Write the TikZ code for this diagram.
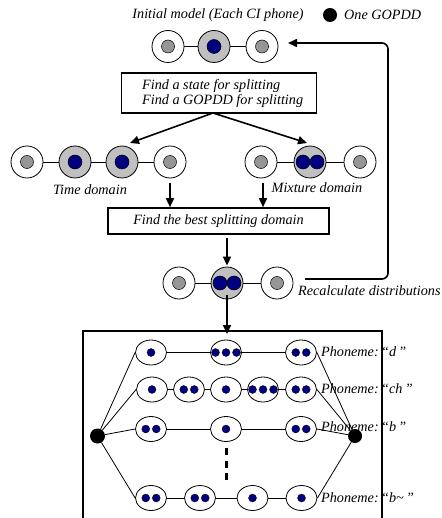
\documentclass[tikz,border=0pt]{standalone}
\usepackage{fontspec}
\setmainfont{Liberation Serif}
\usetikzlibrary{arrows.meta,shapes.geometric}
\definecolor{navy}{RGB}{0,0,128}
\definecolor{midgray}{RGB}{192,192,192}
\definecolor{dotgray}{RGB}{150,150,150}
\tikzset{
  lbl/.style={font=\fontsize{14.2}{15}\selectfont\itshape, inner sep=0pt},
  outerw/.style={circle, draw, line width=0.8pt, minimum size=32pt, inner sep=0pt, fill=white},
  outerg/.style={outerw, fill=midgray},
  gdot/.style={circle, draw, line width=0.5pt, fill=dotgray, minimum size=13pt, inner sep=0pt},
  bdot/.style={circle, draw, line width=0.5pt, fill=navy, minimum size=14pt, inner sep=0pt},
  ell/.style={ellipse, draw, line width=0.8pt, minimum width=31pt, minimum height=25pt, inner sep=0pt, fill=white},
  sdot/.style={circle, fill=navy, draw=black, line width=0.3pt, minimum size=8pt, inner sep=0pt},
  bigdot/.style={circle, fill=black, minimum size=15pt, inner sep=0pt},
  link/.style={line width=0.8pt},
  arr/.style={line width=1.6pt, -{Triangle[length=9pt,width=8pt]}},
  flowbox/.style={draw, line width=1.6pt, inner sep=0pt, fill=white},
}
\newcommand\stnode[5]{%
  \node[#4] (#1) at (#2,#3) {};
  \node[#5] (#1i) at (#2,#3) {};}
\newcommand\stnodetwo[3]{%
  \node[outerg] (#1) at (#2,#3) {};
  \node[bdot] (#1i) at (#2-7,#3) {};
  \node[bdot] (#1j) at (#2+7,#3) {};}
\newcommand\elnode[4]{%
  \node[ell] (#1) at (#2,#3) {};
  \foreach \k in {1,...,#4} \node[sdot] (#1d\k) at ({#2+(\k-(#4+1)/2)*10.5},#3) {};}
\begin{document}
\begin{tikzpicture}[x=1pt,y=-1pt]
\useasboundingbox (0,0) rectangle (441,518);
\clip (0,0) rectangle (441,518);
% legend and title
\node[lbl] (title) at (218,15) {Initial model (Each CI phone)};
\node[bigdot, minimum size=14pt] (legdot) at (330,15) {};
\node[lbl, anchor=west] (legtxt) at (344,15) {One GOPDD};
% top chain
\draw[link] (168,46.5) -- (262,46.5);
\stnode{a1}{168}{46.5}{outerw}{gdot}
\stnode{a2}{214}{46.5}{outerg}{bdot}
\stnode{a3}{262}{46.5}{outerw}{gdot}
% box 1
\node[flowbox, minimum width=195pt, minimum height=40pt] (box1) at (219,93) {};
\node[lbl, align=left, anchor=north west] (box1t) at (142,79) {Find a state for splitting\\Find a GOPDD for splitting};
% left chain
\draw[link] (27,162) -- (170,162);
\stnode{b1}{27}{162}{outerw}{gdot}
\stnode{b2}{75}{162}{outerg}{bdot}
\stnode{b3}{122}{162}{outerg}{bdot}
\stnode{b4}{170}{162}{outerw}{gdot}
\node[lbl] (tdom) at (90,190) {Time domain};
% right chain
\draw[link] (261,162) -- (360,162);
\stnode{c1}{261}{162}{outerw}{gdot}
\stnodetwo{c2}{310}{162}
\stnode{c3}{360}{162}{outerw}{gdot}
\node[lbl] (mdom) at (317,188) {Mixture domain};
% arrows box1 -> chains
\coordinate (la) at (130,143);
\coordinate (ra) at (307,143);
\coordinate (bs) at (213,113);
\draw[arr] (bs) -- (la);
\draw[arr] (bs) -- (ra);
% box 2
\node[flowbox, minimum width=221pt, minimum height=26pt] (box2) at (218.5,221) {};
\node[lbl] (box2t) at (218.5,221) {Find the best splitting domain};
\coordinate (ld) at (170,183);
\coordinate (rd) at (263,183);
\draw[arr] (ld) -- (ld |- box2.north);
\draw[arr] (rd) -- (rd |- box2.north);
% chain 3
\draw[link] (179,283) -- (277,283);
\stnode{d1}{179}{283}{outerw}{gdot}
\stnodetwo{d2}{227}{283}
\stnode{d3}{277}{283}{outerw}{gdot}
\draw[arr, shorten >=1pt] (d2.north |- box2.south) ++(0,3) -- (d2.north);
% return arrow
\coordinate (rs) at (305,279);
\coordinate (rturn) at (388,43);
\coordinate (re) at (288,43);
\draw[arr, rounded corners=6pt] (rs) -| (rturn) -- (re);
\node[lbl, anchor=west] (recalc) at (298,291) {Recalculate distributions};
% big box
\draw[line width=1.8pt] (83,540) -- (83,331) -- (382,331) -- (382,540);
\coordinate (bbtop) at (227,331);
\draw[arr] ([yshift=4pt]d2.south) -- ([yshift=-3pt]bbtop);
% rows
\elnode{p1}{151}{352.5}{1}
\elnode{p2}{226}{352.5}{3}
\elnode{p3}{301}{352.5}{2}
\elnode{q1}{152}{389.5}{1}
\elnode{q2}{189}{389.5}{2}
\elnode{q3}{226}{389.5}{1}
\elnode{q4}{263}{389.5}{3}
\elnode{q5}{301}{389.5}{2}
\elnode{r1}{151}{429}{2}
\elnode{r2}{226}{429}{1}
\elnode{r3}{301}{429}{2}
\elnode{s1}{151}{498}{2}
\elnode{s2}{200}{498}{2}
\elnode{s3}{252.5}{498}{1}
\elnode{s4}{301.5}{498}{1}
\draw[link] (p1) -- (p2) -- (p3);
\draw[link] (q1) -- (q2) -- (q3) -- (q4) -- (q5);
\draw[link] (r1) -- (r2) -- (r3);
\draw[link] (s1) -- (s2) -- (s3) -- (s4);
\node[bigdot] (ldot) at (97.5,436) {};
\node[bigdot, minimum size=14pt] (rdot) at (355,436) {};
\foreach \e in {p1,q1,r1,s1} \draw[link] (ldot) -- (\e.west);
\foreach \e in {p3,q5,r3,s4} \draw[link] (\e.east) -- (rdot);
\coordinate (vd1) at (226,448);
\coordinate (vd2) at (226,481);
\draw[line width=3pt, dash pattern=on 7pt off 5.5pt] (vd1) -- (vd2);
\node[lbl, anchor=west] (ph1) at (321,352) {Phoneme:\,“d\,”};
\node[lbl, anchor=west] (ph2) at (321,389) {Phoneme:\,“ch\,”};
\node[lbl, anchor=west] (ph3) at (321,427) {Phoneme:\,“b\,”};
\node[lbl, anchor=west] (ph4) at (321,498) {Phoneme:\,“b\textasciitilde\,”};
\end{tikzpicture}
\end{document}
